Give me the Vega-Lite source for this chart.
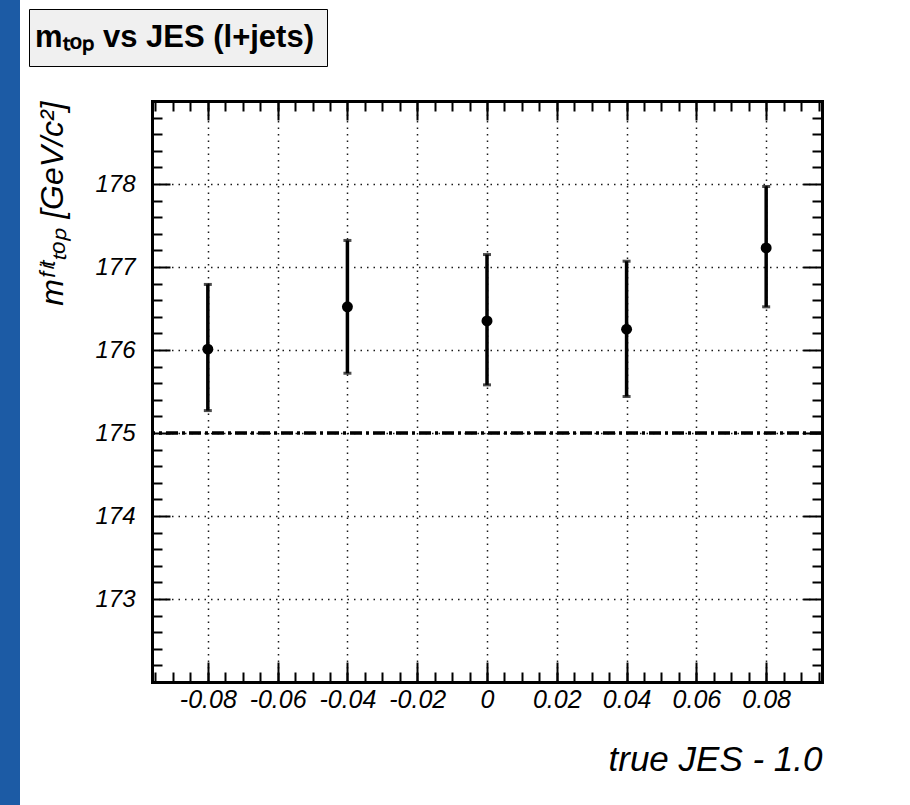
{
  "$schema": "https://vega.github.io/schema/vega-lite/v6.json",
  "autosize": "none",
  "width": 670,
  "height": 581,
  "padding": {"left": 152, "top": 101, "right": 88, "bottom": 123},
  "background": "#1c5ba5",
  "view": {"fill": "white", "stroke": "white", "strokeWidth": 264},
  "data": {
    "values": [
      {"jes": -0.08, "mfit": 176.01, "lo": 175.27, "hi": 176.79},
      {"jes": -0.04, "mfit": 176.52, "lo": 175.72, "hi": 177.32},
      {"jes": 0.0, "mfit": 176.35, "lo": 175.58, "hi": 177.15},
      {"jes": 0.04, "mfit": 176.25, "lo": 175.44, "hi": 177.07},
      {"jes": 0.08, "mfit": 177.23, "lo": 176.52, "hi": 177.97}
    ]
  },
  "config": {
    "font": "Liberation Sans",
    "axis": {
      "domainColor": "black",
      "domainWidth": 3,
      "domainCap": "square",
      "tickColor": "black",
      "tickWidth": 2,
      "labelFont": "Liberation Sans",
      "labelFontStyle": "italic",
      "labelColor": "black",
      "titleFont": "Liberation Sans",
      "titleFontStyle": "italic",
      "titleFontWeight": "normal",
      "titleColor": "black",
      "gridColor": "black",
      "gridDash": [1.5, 5],
      "gridWidth": 1.5,
      "gridOpacity": 0.9,
      "labelOverlap": false,
      "labelFlush": false,
      "labelBound": false
    },
    "legend": {
      "orient": "none",
      "legendX": -123,
      "legendY": -92,
      "fillColor": "#f0f0f0",
      "strokeColor": "black",
      "padding": 13,
      "symbolSize": 0,
      "symbolStrokeWidth": 0,
      "symbolOpacity": 0,
      "labelOffset": -38,
      "labelFontSize": 31,
      "labelFontWeight": "bold",
      "labelFont": "Liberation Sans",
      "labelColor": "black",
      "labelLimit": 0
    }
  },
  "resolve": {"axis": {"x": "independent", "y": "independent"}},
  "layer": [
    {
      "mark": {"type": "rule", "color": "black", "strokeWidth": 2.5, "strokeDash": [12, 4, 3, 4]},
      "encoding": {
        "y": {"datum": 175, "type": "quantitative", "axis": null}
      }
    },
    {
      "mark": {"type": "rule", "color": "black", "strokeWidth": 3.5},
      "encoding": {
        "x": {
          "field": "jes", "type": "quantitative",
          "scale": {"domain": [-0.096, 0.096], "nice": false, "zero": false},
          "axis": {
            "orient": "bottom",
            "values": [-0.08, -0.06, -0.04, -0.02, 0, 0.02, 0.04, 0.06, 0.08],
            "labelExpr": "replace(format(datum.value, '.2~f'), '\u2212', '-')",
            "tickSize": -20,
            "labelPadding": 25,
            "labelFontSize": 25,
            "grid": true,
            "title": "true JES - 1.0",
            "titleFontSize": 35,
            "titleAnchor": "end",
            "titlePadding": 30
          }
        },
        "y": {
          "field": "lo", "type": "quantitative",
          "scale": {"domain": [172, 179], "nice": false, "zero": false},
          "axis": {
            "orient": "left",
            "values": [173, 174, 175, 176, 177, 178],
            "tickSize": -18,
            "labelPadding": 35,
            "labelFontSize": 24,
            "grid": true,
            "title": "mᶠⁱᵗₜₒₚ [GeV/c²]",
            "titleFontSize": 32,
            "titleAnchor": "end",
            "titlePadding": 25
          }
        },
        "y2": {"field": "hi"}
      }
    },
    {
      "mark": {"type": "tick", "orient": "horizontal", "size": 8, "thickness": 3, "color": "black"},
      "encoding": {
        "x": {
          "field": "jes", "type": "quantitative",
          "axis": {
            "orient": "bottom",
            "values": [-0.095, -0.09, -0.085, -0.08, -0.075, -0.07, -0.065, -0.06, -0.055, -0.05, -0.045, -0.04, -0.035, -0.03, -0.025, -0.02, -0.015, -0.01, -0.005, 0, 0.005, 0.01, 0.015, 0.02, 0.025, 0.03, 0.035, 0.04, 0.045, 0.05, 0.055, 0.06, 0.065, 0.07, 0.075, 0.08, 0.085, 0.09, 0.095],
            "tickSize": -10,
            "labels": false,
            "domain": false,
            "grid": false,
            "title": null
          }
        },
        "y": {
          "field": "lo", "type": "quantitative",
          "axis": {
            "orient": "left",
            "values": [172.2, 172.4, 172.6, 172.8, 173.2, 173.4, 173.6, 173.8, 174.2, 174.4, 174.6, 174.8, 175.2, 175.4, 175.6, 175.8, 176.2, 176.4, 176.6, 176.8, 177.2, 177.4, 177.6, 177.8, 178.2, 178.4, 178.6, 178.8],
            "tickSize": -10,
            "labels": false,
            "domain": false,
            "grid": false,
            "title": null
          }
        }
      }
    },
    {
      "mark": {"type": "tick", "orient": "horizontal", "size": 8, "thickness": 3, "color": "black"},
      "encoding": {
        "x": {
          "field": "jes", "type": "quantitative",
          "axis": {
            "orient": "top",
            "values": [-0.08, -0.06, -0.04, -0.02, 0, 0.02, 0.04, 0.06, 0.08],
            "tickSize": -19,
            "labels": false,
            "domain": true,
            "grid": false,
            "title": null
          }
        },
        "y": {
          "field": "hi", "type": "quantitative",
          "axis": {
            "orient": "right",
            "values": [173, 174, 175, 176, 177, 178],
            "tickSize": -19,
            "labels": false,
            "domain": true,
            "grid": false,
            "title": null
          }
        }
      }
    },
    {
      "mark": {"type": "circle", "size": 120, "opacity": 1},
      "encoding": {
        "x": {
          "field": "jes", "type": "quantitative",
          "axis": {
            "orient": "top",
            "values": [-0.095, -0.09, -0.085, -0.08, -0.075, -0.07, -0.065, -0.06, -0.055, -0.05, -0.045, -0.04, -0.035, -0.03, -0.025, -0.02, -0.015, -0.01, -0.005, 0, 0.005, 0.01, 0.015, 0.02, 0.025, 0.03, 0.035, 0.04, 0.045, 0.05, 0.055, 0.06, 0.065, 0.07, 0.075, 0.08, 0.085, 0.09, 0.095],
            "tickSize": -10,
            "labels": false,
            "domain": false,
            "grid": false,
            "title": null
          }
        },
        "y": {
          "field": "mfit", "type": "quantitative",
          "axis": {
            "orient": "right",
            "values": [172.2, 172.4, 172.6, 172.8, 173.2, 173.4, 173.6, 173.8, 174.2, 174.4, 174.6, 174.8, 175.2, 175.4, 175.6, 175.8, 176.2, 176.4, 176.6, 176.8, 177.2, 177.4, 177.6, 177.8, 178.2, 178.4, 178.6, 178.8],
            "tickSize": -10,
            "labels": false,
            "domain": false,
            "grid": false,
            "title": null
          }
        },
        "color": {
          "datum": "mₜₒₚ vs JES (l+jets)",
          "type": "nominal",
          "scale": {"range": ["black"]},
          "legend": {"title": null}
        }
      }
    }
  ]
}
